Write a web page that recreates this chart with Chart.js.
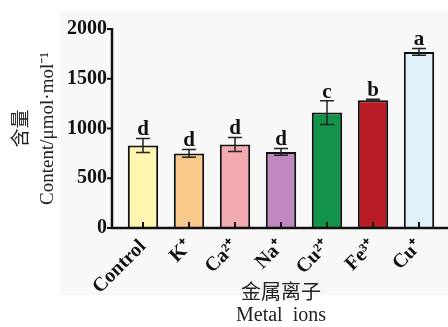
<!DOCTYPE html>
<html>
<head>
<meta charset="utf-8">
<script src="https://cdn.jsdelivr.net/npm/chart.js@4.4.1/dist/chart.umd.min.js"></script>
<style>
  html, body { margin: 0; padding: 0; background: #fff; }
</style>
</head>
<body>
<canvas id="chart" width="448" height="327"></canvas>
<script>
// data
const categories = ['Control', 'K⁺', 'Ca²⁺', 'Na⁺', 'Cu²⁺', 'Fe³⁺', 'Cu⁺'];
const contents = [830, 750, 840, 765, 1160, 1285, 1770];
const errors = [70, 40, 70, 35, 120, 8, 35];
const letters = ['d', 'd', 'd', 'd', 'c', 'b', 'a'];
const barColors = ['#fdf5b0', '#f9c88b', '#f3a9b0', '#bf89c0', '#13924a', '#b81d26', '#e1f1fa'];
const yTicks = [0, 500, 1000, 1500, 2000];

const serif = '"Liberation Serif", "Times New Roman", serif';
const AXIS_X = 112;

// grey backdrop, axis lines, error bars and significance letters
const decorations = {
    id: 'decorations',
    beforeDraw(chart) {
        const ctx = chart.ctx;
        ctx.save();
        ctx.fillStyle = '#f8f8f8';
        ctx.fillRect(60, 11, 388, 284);
        ctx.restore();
    },
    afterDatasetsDraw(chart) {
        const ctx = chart.ctx;
        const x = chart.scales.x, y = chart.scales.y;
        const y0 = y.getPixelForValue(0);
        ctx.save();

        // error bars
        ctx.strokeStyle = '#222';
        ctx.lineWidth = 1.5;
        contents.forEach(function(v, i){
            const cx = x.getPixelForValue(i);
            const hi = y.getPixelForValue(v + errors[i]);
            const lo = y.getPixelForValue(v - errors[i]);
            ctx.beginPath();
            ctx.moveTo(cx, hi); ctx.lineTo(cx, lo);
            ctx.moveTo(cx - 7, hi); ctx.lineTo(cx + 7, hi);
            ctx.moveTo(cx - 7, lo); ctx.lineTo(cx + 7, lo);
            ctx.stroke();

            // letter above the error bar
            ctx.fillStyle = '#111';
            ctx.font = 'bold 21px ' + serif;
            ctx.textAlign = 'center';
            ctx.textBaseline = 'alphabetic';
            ctx.fillText(letters[i], cx, hi - 3);
        });

        // axes
        ctx.strokeStyle = '#111';
        ctx.lineWidth = 2.5;
        const yTop = y.getPixelForValue(2000);
        ctx.beginPath();
        ctx.moveTo(AXIS_X, yTop - 1);
        ctx.lineTo(AXIS_X, y0);
        ctx.lineTo(448, y0);
        ctx.stroke();

        ctx.lineWidth = 2;
        ctx.beginPath();
        yTicks.forEach(function(t){
            const py = y.getPixelForValue(t);
            ctx.moveTo(AXIS_X - 5, py); ctx.lineTo(AXIS_X, py);
        });
        categories.forEach(function(c, i){
            const px = x.getPixelForValue(i);
            ctx.moveTo(px, y0); ctx.lineTo(px, y0 - 6);
        });
        ctx.stroke();
        ctx.restore();
    }
};

new Chart(document.getElementById('chart'), {
    type: 'bar',
    data: {
        labels: categories,
        datasets: [{
            data: contents,
            backgroundColor: barColors,
            borderColor: '#111',
            borderWidth: 2,
            barPercentage: 0.66,
            categoryPercentage: 1
        }]
    },
    options: {
        responsive: false,
        animation: false,
        layout: { padding: { top: 29, right: 6, left: 0, bottom: 0 } },
        plugins: { legend: { display: false }, tooltip: { enabled: false } },
        scales: {
            x: {
                grid: { display: false, drawTicks: false },
                border: { display: false },
                ticks: {
                    color: '#111',
                    font: { family: serif, size: 20, weight: 'bold' },
                    minRotation: 45, maxRotation: 45,
                    padding: 7
                },
                title: {
                    display: true,
                    text: ['金属离子', 'Metal  ions'],
                    color: '#222',
                    font: { family: serif + ', "Noto Sans CJK SC"', size: 20, lineHeight: 1.1 },
                    padding: { top: 0, bottom: 0 }
                },
                afterFit(scale) { scale.height = 99; }
            },
            y: {
                min: 0, max: 2000,
                grid: { display: false, drawTicks: false },
                border: { display: false },
                afterBuildTicks(scale) { scale.ticks = yTicks.map(v => ({ value: v })); },
                ticks: {
                    color: '#111',
                    padding: 13,
                    font: { family: serif, size: 20, weight: 'bold' },
                    callback: v => String(v)
                },
                title: {
                    display: true,
                    text: ['含量', 'Content/μmol·mol⁻¹'],
                    color: '#222',
                    font: { family: serif + ', "Noto Sans CJK SC"', size: 19, lineHeight: 1.37 },
                    padding: { top: 9, bottom: 0 }
                },
                afterFit(scale) { scale.width = 120; }
            }
        }
    },
    plugins: [decorations]
});
</script>
</body>
</html>
